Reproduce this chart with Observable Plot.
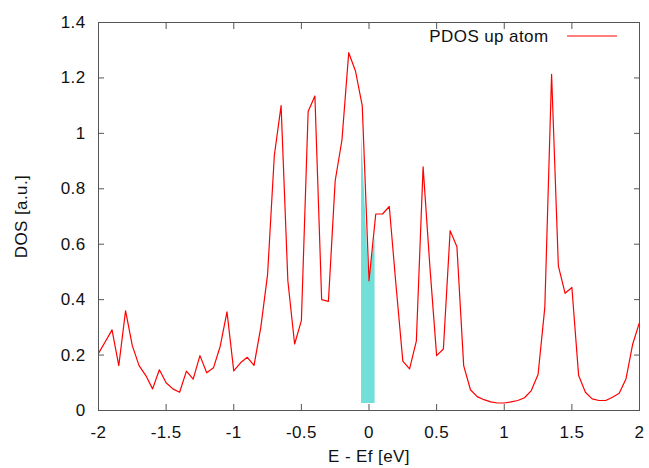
<!DOCTYPE html>
<html><head><meta charset="utf-8">
<script src="https://cdn.jsdelivr.net/npm/d3@7"></script>
<script src="https://cdn.jsdelivr.net/npm/@observablehq/plot@0.6"></script>
<style>body{margin:0;background:#fff}svg{display:block}</style>
</head><body><div id="chart"></div>
<script>
const energy = [-2.00,-1.95,-1.90,-1.85,-1.80,-1.75,-1.70,-1.65,-1.60,-1.55,-1.50,-1.45,-1.40,-1.35,-1.30,-1.25,-1.20,-1.15,-1.10,-1.05,
  -1.00,-0.95,-0.90,-0.85,-0.80,-0.75,-0.70,-0.65,-0.60,-0.55,-0.50,-0.45,-0.40,-0.35,-0.30,-0.25,-0.20,-0.15,-0.10,-0.05,
  0.00,0.05,0.10,0.15,0.20,0.25,0.30,0.35,0.40,0.45,0.50,0.55,0.60,0.65,0.70,0.75,0.80,0.85,0.90,0.95,
  1.00,1.05,1.10,1.15,1.20,1.25,1.30,1.35,1.40,1.45,1.50,1.55,1.60,1.65,1.70,1.75,1.80,1.85,1.90,1.95,2.00];
const dos = [0.206,0.248,0.291,0.162,0.360,0.234,0.162,0.126,0.078,0.147,0.100,0.078,0.066,0.142,0.113,0.198,0.136,0.154,0.232,0.356,
  0.143,0.172,0.192,0.163,0.300,0.490,0.920,1.100,0.468,0.240,0.324,1.079,1.135,0.400,0.394,0.829,0.976,1.291,1.225,1.100,
  0.468,0.709,0.709,0.736,0.450,0.178,0.150,0.250,0.879,0.520,0.198,0.222,0.649,0.591,0.162,0.075,0.050,0.039,0.031,0.027,
  0.027,0.031,0.036,0.046,0.072,0.130,0.372,1.213,0.522,0.423,0.444,0.126,0.066,0.042,0.036,0.036,0.048,0.062,0.114,0.240,0.318];
const xTicks = [-2,-1.5,-1,-0.5,0,0.5,1,1.5,2];
const yTicks = [0,0.2,0.4,0.6,0.8,1,1.2,1.4];
// occupied window around the Fermi level (filled under the curve)
const fillE = [-0.055, 0.0, 0.045];
const fillTop = [1.0, 0.468, 0.625];
const fillBase = [0.025, 0.025, 0.025];
const seriesLabel = ["PDOS up atom"];
const xTitle = ["E - Ef [eV]"];
const yTitle = ["DOS [a.u.]"];

const rows = energy.map((e, i) => ({e, d: dos[i]}));
const fillRows = fillE.map((e, i) => ({e, top: fillTop[i], base: fillBase[i]}));
const fmt = d => String(d);
const axisGray = "#555";

const legendLine = (index, scales, values, dim) => {
  const right = dim.width - dim.marginRight;
  const y = dim.marginTop + 14;
  return d3.create("svg:line")
    .attr("x1", right - 72).attr("x2", right - 22)
    .attr("y1", y).attr("y2", y)
    .attr("stroke", "#ff0000").attr("stroke-width", 1.2).node();
};

const chart = Plot.plot({
  width: 649, height: 468,
  marginLeft: 98, marginRight: 10, marginTop: 22, marginBottom: 58,
  style: {fontFamily: "'Liberation Sans', Arial, sans-serif", fontSize: "17px", color: "#111", letterSpacing: "0.4px", background: "#fff"},
  x: {domain: [-2, 2]},
  y: {domain: [0, 1.4]},
  marks: [
    Plot.areaY(fillRows, {x: "e", y1: "base", y2: "top", fill: "#72e0d8"}),
    Plot.line(rows, {x: "e", y: "d", stroke: "#ff0000", strokeWidth: 1.2}),
    Plot.frame({stroke: axisGray}),
    Plot.axisX(xTicks, {anchor: "bottom", tickSize: -6, tickPadding: 21, tickFormat: fmt, stroke: axisGray, label: null}),
    Plot.axisX(xTicks, {anchor: "top", tickSize: -6, tickFormat: () => "", stroke: axisGray, label: null}),
    Plot.axisY(yTicks, {anchor: "left", tickSize: -6, tickPadding: 19, tickFormat: fmt, stroke: axisGray, label: null}),
    Plot.axisY(yTicks, {anchor: "right", tickSize: -6, tickFormat: () => "", stroke: axisGray, label: null}),
    Plot.text(xTitle, {frameAnchor: "bottom", dy: 46, lineAnchor: "middle", fill: "#111"}),
    Plot.text(yTitle, {frameAnchor: "left", dx: -76.5, rotate: -90, textAnchor: "middle", lineAnchor: "middle", fill: "#111"}),
    Plot.text(seriesLabel, {frameAnchor: "top-right", dx: -91, dy: 14, textAnchor: "end", lineAnchor: "middle", fill: "#111"}),
    legendLine
  ]
});
document.getElementById("chart").append(chart);
</script>
</body></html>
